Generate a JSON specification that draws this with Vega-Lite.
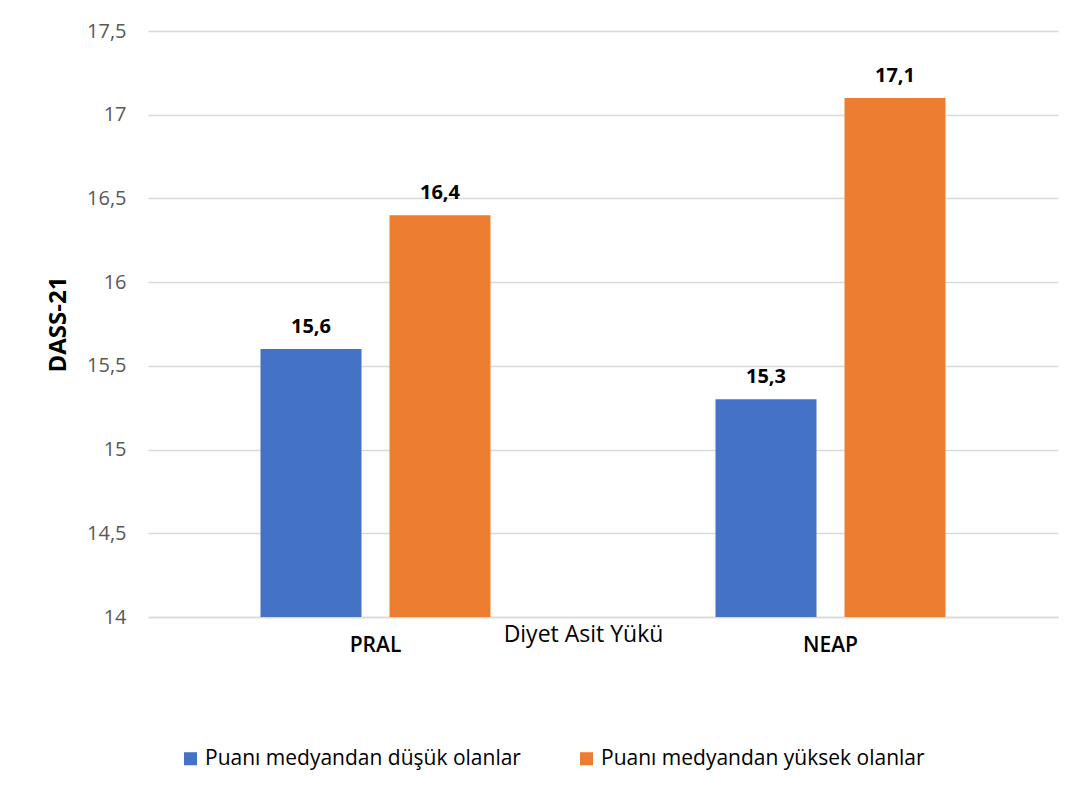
{
  "$schema": "https://vega.github.io/schema/vega-lite/v6.json",
  "autosize": "none",
  "width": 910,
  "height": 586,
  "padding": {"left": 148, "top": 31, "right": 26, "bottom": 179},
  "background": "white",
  "config": {
    "font": "Open Sans",
    "locale": {"number": {"decimal": ",", "thousands": ".", "grouping": [3], "currency": ["", " €"]}},
    "view": {"stroke": null}
  },
  "data": {
    "values": [
      {"kategori": "PRAL", "grup": "Puanı medyandan düşük olanlar", "deger": 15.6},
      {"kategori": "PRAL", "grup": "Puanı medyandan yüksek olanlar", "deger": 16.4},
      {"kategori": "NEAP", "grup": "Puanı medyandan düşük olanlar", "deger": 15.3},
      {"kategori": "NEAP", "grup": "Puanı medyandan yüksek olanlar", "deger": 17.1}
    ]
  },
  "encoding": {
    "x": {
      "field": "kategori", "type": "nominal", "sort": ["PRAL", "NEAP"],
      "scale": {"paddingInner": 0, "paddingOuter": 0},
      "axis": {
        "title": "Diyet Asit Yükü", "titleFontSize": 23, "titleFontWeight": 500, "titleColor": "#000000",
        "titleY": 6, "titleBaseline": "top", "titleX": 435, "titleAlign": "center", "titleAnchor": null,
        "labelAngle": 0, "labelFontSize": 21, "labelFontWeight": 600, "labelColor": "#000000", "labelPadding": 17,
        "ticks": false, "domainColor": "#d9d9d9", "domainWidth": 1.5
      }
    },
    "xOffset": {
      "field": "grup", "type": "nominal",
      "scale": {"paddingInner": 0.217, "paddingOuter": 0.872}
    },
    "y": {
      "field": "deger", "type": "quantitative",
      "scale": {"domain": [14, 17.5], "nice": false, "zero": false},
      "axis": {
        "title": "DASS-21", "titleFontSize": 24, "titleFontWeight": "bold", "titleColor": "#000000", "titlePadding": 16,
        "values": [14, 14.5, 15, 15.5, 16, 16.5, 17, 17.5], "format": "~f",
        "labelFontSize": 20, "labelFontWeight": 500, "labelColor": "#595959", "labelPadding": 22,
        "ticks": false, "domain": false, "gridColor": "#d9d9d9", "gridWidth": 1.5
      }
    }
  },
  "layer": [
    {
      "mark": {"type": "bar", "clip": true},
      "encoding": {
        "color": {
          "field": "grup", "type": "nominal",
          "scale": {"range": ["#4472C4", "#ED7D31"]},
          "legend": {
            "title": null, "orient": "none", "direction": "horizontal", "legendX": 32, "legendY": 717,
            "symbolType": "square", "symbolSize": 170, "symbolStrokeWidth": 0, "symbolOpacity": 1,
            "labelFontSize": 21, "labelFontWeight": 500, "labelColor": "#000000", "columnPadding": 55, "labelOffset": 4, "labelLimit": 500
          }
        }
      }
    },
    {
      "mark": {"type": "text", "baseline": "bottom", "dy": -12, "fontSize": 20, "fontWeight": "bold", "color": "#000000"},
      "encoding": {
        "text": {"field": "deger", "type": "quantitative", "format": ".1f"}
      }
    }
  ]
}
